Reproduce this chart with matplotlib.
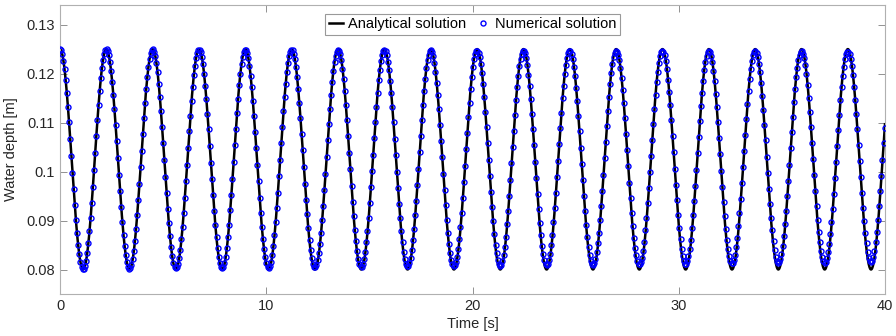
import numpy as np
import matplotlib
matplotlib.use("Agg")
import matplotlib.pyplot as plt

# Values
mean_depth = 0.1025      # m
amplitude = 0.0225       # m
period = 2.247           # s
t_end = 40.0             # s
num_dt = 0.055           # s, spacing of numerical samples
num_amp_decay = 870.0    # s, slow decay of numerical amplitude
num_mean_shift = 0.0005  # m, late numerical mean offset
x_ticks = [0, 10, 20, 30, 40]
y_ticks = [0.08, 0.09, 0.10, 0.11, 0.12, 0.13]
y_tick_labels = ["0.08", "0.09", "0.1", "0.11", "0.12", "0.13"]

t_an = np.linspace(0, t_end, 4001)
h_an = mean_depth + amplitude * np.cos(2 * np.pi * t_an / period)

t_num = np.arange(0, t_end + 1e-9, num_dt)
frac = t_num / t_end
h_num = (mean_depth + num_mean_shift * frac
         + amplitude * np.exp(-t_num / num_amp_decay) * np.cos(2 * np.pi * t_num / period))

plt.rcParams['font.family'] = ['Liberation Sans', 'DejaVu Sans']
fig = plt.figure(figsize=(8.96, 3.36), dpi=100)
ax = fig.add_axes([60 / 896, 1 - 294 / 336, 825 / 896, 289 / 336])

ax.plot(t_an, h_an, color='black', lw=1.8, label='Analytical solution', zorder=2)
ax.plot(t_num, h_num, ls='none', marker='o', ms=3.6, mfc='none', mec='#0000ff',
        mew=1.0, label='Numerical solution', zorder=3)

ax.set_xlim(0, 40)
ax.set_ylim(0.075, 0.134)
ax.set_xticks(x_ticks)
ax.set_yticks(y_ticks)
ax.set_yticklabels(y_tick_labels)
ax.tick_params(direction='in', top=True, right=True, labelsize=10.5,
               colors='#262626', length=5, width=0.6)
ax.tick_params(axis='both', color='#808080')
for s in ax.spines.values():
    s.set_color('#b0b0b0')
    s.set_linewidth(0.8)
ax.set_xlabel('Time [s]', fontsize=10.5, color='#262626', labelpad=3)
ax.set_ylabel('Water depth [m]', fontsize=10.5, color='#262626', labelpad=6)

leg = ax.legend(loc='upper center', ncol=2, fontsize=10.5, frameon=True,
                fancybox=False, handlelength=1.0, handletextpad=0.3,
                columnspacing=0.7, borderpad=0.25, borderaxespad=0.2,
                markerscale=1.0, bbox_to_anchor=(0.5, 0.98))
leg.get_frame().set_edgecolor('#808080')
leg.get_frame().set_linewidth(0.8)

fig.savefig('out.png', dpi=100)
